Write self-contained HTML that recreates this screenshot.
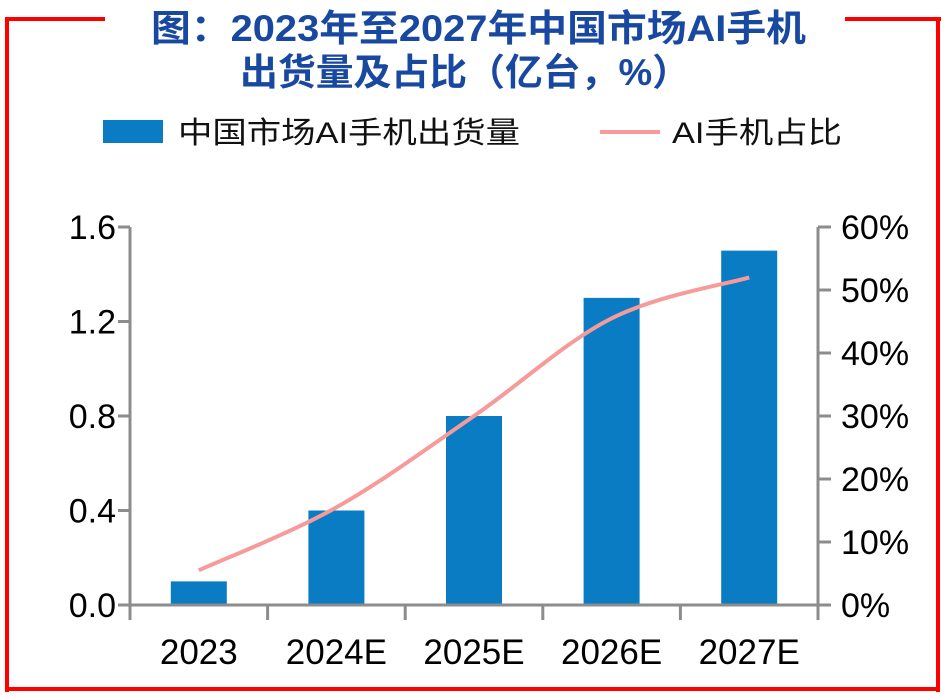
<!DOCTYPE html>
<html><head><meta charset="utf-8"><style>
html,body{margin:0;padding:0;background:#fff;}
svg{display:block;}
text{font-family:"Liberation Sans","Noto Sans CJK SC",sans-serif;}
</style></head><body>
<svg id="chart" width="950" height="697" viewBox="0 0 950 697">
  <g fill="#ff0000">
    <rect x="5" y="17" width="100" height="4"/>
    <rect x="845" y="17" width="96" height="4"/>
    <rect x="5" y="17" width="4" height="675"/>
    <rect x="936" y="17" width="4" height="675"/>
    <rect x="5" y="687" width="935" height="4"/>
  </g>
  <g fill="#1848a0" font-size="37" font-weight="bold">
    <text x="151" y="41" textLength="655" lengthAdjust="spacingAndGlyphs">图：2023年至2027年中国市场AI手机</text>
    <text x="240" y="85" textLength="450" lengthAdjust="spacingAndGlyphs">出货量及占比（亿台，%）</text>
  </g>
  <g>
    <g>
      <rect x="103" y="120" width="60" height="23" fill="#0a7cc4"/>
      <text x="178" y="143" font-size="30" fill="#111" textLength="342" lengthAdjust="spacingAndGlyphs">中国市场AI手机出货量</text>
    </g>
    <g>
      <line x1="600" y1="132" x2="660" y2="132" stroke="#f79a9a" stroke-width="4"/>
      <text x="672" y="143" font-size="30" fill="#111" textLength="170" lengthAdjust="spacingAndGlyphs">AI手机占比</text>
    </g>
  </g>
  <g id="plot"></g>
</svg>
<script>
const categories = ["2023","2024E","2025E","2026E","2027E"];
const shipments = [0.1, 0.4, 0.8, 1.3, 1.5];
const share = [5.5, 15.5, 30, 45.5, 52];
const leftTicks = ["0.0","0.4","0.8","1.2","1.6"];
const rightTicks = ["0%","10%","20%","30%","40%","50%","60%"];

const X0=130, X1=818, Y0=605, Y1=227;
const NS="http://www.w3.org/2000/svg";
const plot=document.getElementById('plot');
const band=(X1-X0)/categories.length;
const xC=i=>X0+band*(i+0.5);
const yL=v=>Y0-(v/1.6)*(Y0-Y1);
const yR=v=>Y0-(v/60)*(Y0-Y1);
function mk(tag,attrs,parent){const e=document.createElementNS(NS,tag);for(const k in attrs)e.setAttribute(k,attrs[k]);(parent||plot).appendChild(e);return e;}

shipments.forEach((v,i)=>{
  const r=mk('rect',{x:xC(i)-28,y:yL(v),width:56,height:Y0-yL(v),fill:'#0a7cc4'});
  
  
});
const ax=mk('g',{stroke:'#8c8c8c','stroke-width':3,fill:'none'});


mk('line',{x1:X0,y1:Y1,x2:X0,y2:Y0+1},ax);
mk('line',{x1:X1,y1:Y1,x2:X1,y2:Y0+1},ax);
mk('line',{x1:X0,y1:Y0,x2:X1,y2:Y0},ax);
leftTicks.forEach((t,i)=>{
  const v=parseFloat(t), y=yL(v);
  mk('line',{x1:X0-12,y1:y,x2:X0,y2:y},ax);
  const tx=mk('text',{x:X0-14,y:y+12,'font-size':34,'text-anchor':'end',fill:'#000'});
  tx.textContent=t;
  
  
});
rightTicks.forEach((t,i)=>{
  const v=parseFloat(t), y=yR(v);
  mk('line',{x1:X1,y1:y,x2:X1+13,y2:y},ax);
  const tx=mk('text',{x:X1+23,y:y+12,'font-size':34,fill:'#000'});
  tx.textContent=t;
  
  
});
for(let i=0;i<=categories.length;i++){
  const x=X0+band*i;
  mk('line',{x1:x,y1:Y0,x2:x,y2:Y0+15},ax);
}
categories.forEach((c,i)=>{
  const tx=mk('text',{x:xC(i),y:664,'font-size':35,'text-anchor':'middle',fill:'#000'});
  tx.textContent=c;
  
  
});
const pts=share.map((v,i)=>[xC(i),yR(v)]);
let d='M'+pts[0][0]+','+pts[0][1];
for(let i=0;i<pts.length-1;i++){
  const p0=pts[Math.max(0,i-1)],p1=pts[i],p2=pts[i+1],p3=pts[Math.min(pts.length-1,i+2)];
  const c1=[p1[0]+(p2[0]-p0[0])/6,p1[1]+(p2[1]-p0[1])/6];
  const c2=[p2[0]-(p3[0]-p1[0])/6,p2[1]-(p3[1]-p1[1])/6];
  d+=' C'+c1+' '+c2+' '+p2;
}
const ln=mk('path',{d:d,fill:'none',stroke:'#f79a9a','stroke-width':4});


</script>
</body></html>
